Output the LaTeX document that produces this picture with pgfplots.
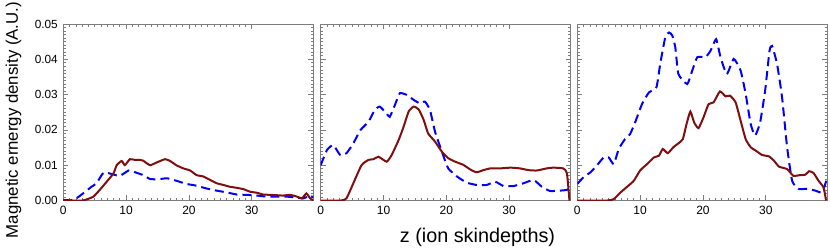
\documentclass[border=0pt]{standalone}
\usepackage{fontspec}
\setmainfont{Liberation Sans}
\usepackage{pgfplots}
\pgfplotsset{compat=1.18}
\definecolor{dred}{RGB}{128,14,14}
\definecolor{framegray}{RGB}{125,125,125}
\pgfplotsset{
  panel/.style={
    width=250pt, height=176.5pt, scale only axis,
    xmin=0, xmax=39.8, ymin=0, ymax=0.05,
    xtick={0,10,20,30}, ytick={0,0.01,0.02,0.03,0.04,0.05},
    minor x tick num=9, minor y tick num=9,
    scaled y ticks=false,
    axis line style={framegray, line width=0.9pt},
    every tick/.style={framegray, line width=0.7pt},
    major tick length=5pt, minor tick length=2.7pt,
    tick align=inside,
    /pgf/number format/assume math mode=true,
    xticklabel style={font=\fontsize{12}{14}\selectfont, yshift=-2pt},
    yticklabel style={font=\fontsize{11.8}{14}\selectfont, xshift=-2pt,
      /pgf/number format/fixed, /pgf/number format/fixed zerofill, /pgf/number format/precision=2},
  },
  redl/.style={dred, line width=2pt, smooth, tension=0.3},
  bluel/.style={blue, line width=2pt, dash pattern=on 9pt off 5pt, smooth, tension=0.3},
}
\begin{document}
\begin{tikzpicture}
\useasboundingbox (0,0) rectangle (830pt,249pt);
% Panel 1
\begin{axis}[panel, at={(63.3pt,48.5pt)}, anchor=south west,
  ylabel={Magnetic ernergy density (A.U.)},
  ylabel style={font=\fontsize{16.8}{20}\selectfont, at={(axis description cs:-0.199,0.456)}, anchor=center}]
\addplot[bluel] coordinates {
(0,0.0001)(1.5,0.0001)(2.4,0.001)(3.5,0.0025)(4.5,0.0039)(5.3,0.0049)(6.1,0.0072)(6.6,0.008)(7.7,0.0075)(9.0,0.007)(10.4,0.0085)(11.1,0.0082)(12.7,0.0072)(13.8,0.0061)(15.1,0.006)(16.5,0.0063)(18.0,0.0056)(19.6,0.0047)(21.2,0.0042)(22.8,0.0034)(24.4,0.0028)(26.0,0.0023)(27.6,0.0017)(29.2,0.0016)(30.8,0.0014)(32.4,0.0011)(34.0,0.0011)(35.6,0.0011)(37.2,0.0008)(38.2,0.0006)(39.0,0.0012)(39.3,0.0015)(39.8,0.0008)};
\addplot[redl] coordinates {
(0,0)(3.0,0)(3.7,0.0003)(4.8,0.0011)(5.8,0.003)(6.9,0.0053)(8.0,0.0077)(8.5,0.010)(9.3,0.0112)(9.8,0.010)(10.6,0.0117)(11.4,0.0115)(12.2,0.0115)(12.7,0.0113)(13.8,0.010)(14.9,0.0108)(16.2,0.0117)(17.0,0.0112)(18.0,0.010)(19.1,0.0091)(20.2,0.0085)(21.2,0.0072)(22.3,0.0068)(23.4,0.0058)(24.4,0.0049)(25.5,0.0044)(26.5,0.0039)(27.6,0.0036)(28.7,0.0032)(29.7,0.0025)(30.8,0.0022)(31.8,0.0017)(32.9,0.0016)(34.0,0.0015)(35.0,0.0014)(36.1,0.0016)(37.2,0.0011)(38.0,0.0006)(38.7,0.002)(39.3,0.0006)(39.8,0)};
\end{axis}
% Panel 2
\begin{axis}[panel, at={(320.7pt,48.5pt)}, anchor=south west, yticklabels={}]
\addplot[bluel] coordinates {
(0,0.010)(1.0,0.0143)(2.0,0.0157)(3.1,0.0129)(4.1,0.0134)(5.2,0.0162)(6.3,0.0199)(7.6,0.0223)(8.6,0.0256)(9.4,0.0266)(10.5,0.0246)(11.0,0.0237)(11.8,0.027)(12.6,0.0304)(13.7,0.0299)(14.8,0.0285)(15.8,0.0275)(16.6,0.028)(17.4,0.0256)(18.2,0.0195)(19.3,0.0138)(20.3,0.0091)(21.7,0.0068)(23.2,0.0051)(24.8,0.0044)(26.4,0.0044)(27.8,0.0053)(29.1,0.0041)(30.7,0.0041)(32.3,0.0049)(33.9,0.0058)(35.2,0.0039)(36.5,0.0027)(38.1,0.0028)(39.2,0.003)(39.8,0.0037)};
\addplot[redl] coordinates {
(0,0)(3.2,0)(4.1,0.0006)(5.2,0.0049)(6.5,0.010)(7.6,0.0115)(8.4,0.0117)(9.2,0.0124)(10.5,0.011)(11.3,0.0129)(12.4,0.0171)(13.2,0.0209)(14.0,0.0252)(14.8,0.0266)(15.6,0.0258)(16.4,0.0228)(17.1,0.019)(18.2,0.0167)(19.3,0.0138)(20.3,0.012)(21.4,0.011)(22.7,0.0101)(23.8,0.0088)(24.8,0.008)(25.9,0.0086)(27.0,0.0091)(28.6,0.0091)(30.2,0.0093)(31.7,0.0091)(33.1,0.0086)(34.4,0.0085)(36.0,0.0091)(37.0,0.0093)(38.6,0.0091)(39.2,0.0077)(39.6,0)};
\end{axis}
% Panel 3
\begin{axis}[panel, at={(577.3pt,48.5pt)}, anchor=south west, yticklabels={}]
\addplot[bluel] coordinates {
(0,0.0047)(1.0,0.0066)(2.1,0.008)(3.1,0.0099)(4.2,0.0122)(5.0,0.0122)(5.8,0.0103)(6.6,0.0146)(7.6,0.0174)(8.4,0.0188)(9.2,0.0221)(10.3,0.0273)(11.4,0.0306)(12.6,0.0321)(13.2,0.0387)(14.0,0.0462)(14.6,0.0476)(15.1,0.0468)(15.6,0.0434)(16.1,0.0358)(17.5,0.033)(18.3,0.0368)(19.1,0.0406)(20.4,0.0406)(21.2,0.0424)(22.1,0.0457)(22.8,0.0406)(23.8,0.0358)(24.9,0.0401)(26.0,0.0368)(26.8,0.0302)(27.6,0.0217)(28.3,0.0184)(29.1,0.0221)(29.9,0.0311)(30.6,0.0424)(31.0,0.0438)(31.8,0.0387)(32.6,0.0292)(33.4,0.0151)(34.2,0.0056)(35.2,0.0033)(36.6,0.0033)(37.9,0.0028)(39.0,0.0023)(39.8,0.0066)};
\addplot[redl] coordinates {
(0,0)(4.8,0)(5.8,0.0004)(6.9,0.0023)(8.0,0.004)(9.0,0.0056)(10.0,0.0085)(11.1,0.0103)(12.2,0.0122)(13.0,0.0127)(13.6,0.0146)(14.4,0.0134)(15.3,0.0151)(16.1,0.0162)(16.8,0.0174)(17.4,0.0217)(18.0,0.0252)(18.6,0.0221)(19.3,0.0205)(20.1,0.0236)(20.9,0.0273)(21.7,0.0278)(22.7,0.0309)(23.6,0.0295)(24.3,0.0297)(25.2,0.0278)(26.0,0.0226)(26.8,0.0174)(27.6,0.0151)(28.6,0.0139)(29.4,0.0129)(30.5,0.0125)(31.3,0.0113)(32.1,0.0096)(33.4,0.0089)(34.4,0.007)(35.5,0.0072)(36.3,0.0073)(36.9,0.0083)(37.6,0.0078)(38.4,0.0056)(39.2,0.0037)(39.6,0)};
\end{axis}
\node[anchor=base, font=\fontsize{19.8}{22}\selectfont, inner sep=0pt] at (477.5pt,6.5pt) {z (ion skindepths)};
\end{tikzpicture}
\end{document}
